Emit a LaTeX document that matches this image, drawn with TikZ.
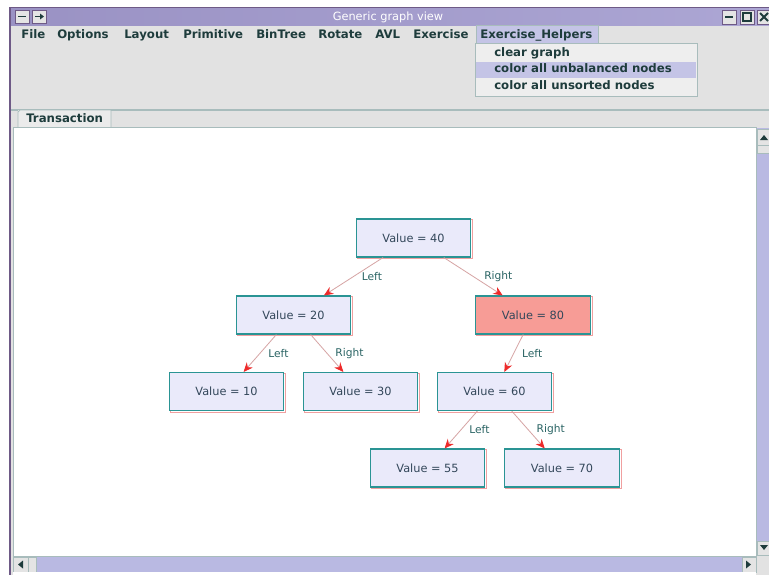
\documentclass[tikz,border=0pt]{standalone}
\usepackage{fontspec}
\setmainfont{DejaVu Sans}
\usetikzlibrary{arrows.meta}
\definecolor{titlebar}{HTML}{ACA6D4}
\definecolor{titledark}{HTML}{9A92C4}
\definecolor{frame}{HTML}{6E5A86}
\definecolor{panel}{HTML}{E2E2E2}
\definecolor{menutext}{HTML}{1E3C3C}
\definecolor{menuhi}{HTML}{C4C4E6}
\definecolor{rule}{HTML}{A8BCBC}
\definecolor{nodefill}{HTML}{EAEAFA}
\definecolor{nodeline}{HTML}{2A9494}
\definecolor{nodefringe}{HTML}{F0A0A0}
\definecolor{hotfill}{HTML}{F79C96}
\definecolor{edgeline}{HTML}{D6A4A4}
\definecolor{tipred}{HTML}{EE2A2A}
\definecolor{labeltext}{HTML}{2A6464}
\definecolor{valuetext}{HTML}{33475A}
\definecolor{track}{HTML}{B9B9E2}
\definecolor{button}{HTML}{E4E4E4}
\tikzset{
  menuitem/.style={anchor=base west, inner sep=0pt, text=menutext,
    font=\fontsize{8.8}{10}\selectfont\bfseries},
  treenode/.style={draw=nodeline, fill=nodefill, line width=0.8pt,
    minimum width=86pt, minimum height=28.5pt, inner sep=0pt, text=valuetext,
    font=\fontsize{8.5}{10}\selectfont,
    append after command={
      \pgfextra{\draw[nodefringe, line width=0.5pt]
        ([xshift=0.9pt,yshift=-0.9pt]\tikzlastnode.north west) rectangle
        ([xshift=0.9pt,yshift=-0.9pt]\tikzlastnode.south east);}}},
  hotnode/.style={treenode, fill=hotfill},
  link/.style={draw=edgeline, line width=0.6pt,
    -{Stealth[color=tipred, length=7pt, width=6pt]}},
  side/.style={midway, anchor=west, xshift=6pt, inner sep=0pt, text=labeltext,
    font=\fontsize{8}{10}\selectfont},
  winbtn/.style={draw=frame, fill=button, line width=0.6pt},
  scrollbtn/.style={draw=rule, fill=button, line width=0.5pt},
}
\begin{document}
\begin{tikzpicture}[x=0.75pt, y=-0.75pt]
\useasboundingbox (0,0) rectangle (769,575);
\fill[white] (0,0) rectangle (769,575);

% window body and frame
\fill[panel] (9,7) rectangle (769,575);
\draw[frame, line width=1.5pt] (10,575) -- (10,7.5) -- (769,7.5);

% title bar
\shade[left color=titledark, right color=titlebar] (11,8) rectangle (769,25);
\node[anchor=base, inner sep=0pt, text=white, font=\fontsize{8.5}{10}\selectfont]
  (title) at (388,20.5) {Generic graph view};
\draw[winbtn] (15,10) rectangle (29,23);
\draw[menutext, line width=1.2pt] (18,16.5) -- (26,16.5);
\draw[winbtn] (32,10) rectangle (46,23);
\draw[menutext, line width=1.2pt] (35,16.5) -- (41,16.5);
\fill[menutext] (44,16.5) -- (40,13.5) -- (40,19.5) -- cycle;
\draw[winbtn] (722,10) rectangle (736,24);
\draw[menutext, line width=1.2pt] (725,17) -- (733,17);
\draw[winbtn] (740,10) rectangle (754,24);
\draw[menutext, line width=1pt] (743,13) rectangle (751,21);
\draw[winbtn] (757,10) rectangle (771,24);
\draw[menutext, line width=1.4pt] (760,13) -- (768,21) (768,13) -- (760,21);

% menu bar
\fill[menuhi] (476,25) rectangle (598,43);
\draw[rule, line width=0.5pt] (476,25) rectangle (598,43);
\node[menuitem] (mfile)   at (21,38)  {File};
\node[menuitem] (mopt)    at (57,38)  {Options};
\node[menuitem] (mlayout) at (124,38) {Layout};
\node[menuitem] (mprim)   at (183,38) {Primitive};
\node[menuitem] (mbin)    at (256,38) {BinTree};
\node[menuitem] (mrot)    at (318,38) {Rotate};
\node[menuitem] (mavl)    at (375,38) {AVL};
\node[menuitem] (mex)     at (413,38) {Exercise};
\node[menuitem] (mhelp)   at (480,38) {Exercise\_Helpers};

% drop-down menu
\fill[panel!60!white] (475,43) rectangle (697,96);
\fill[menuhi] (476,61.5) rectangle (696,77.5);
\draw[rule, line width=0.6pt] (475,43) rectangle (697,96);
\node[menuitem] (dclear)  at (494,56.5) {clear graph};
\node[menuitem] (dunbal)  at (494,72.5) {color all unbalanced nodes};
\node[menuitem] (dunsort) at (494,89)   {color all unsorted nodes};

% tab strip
\draw[rule, line width=0.8pt] (11,110) -- (769,110);
\fill[panel!70!white] (18,110) rectangle (111,127);
\draw[rule, line width=0.6pt] (18,127) -- (18,112) -- (20,110) -- (111,110) -- (111,127);
\node[menuitem] (tab) at (26,122) {Transaction};

% drawing canvas
\fill[white] (13,127) rectangle (756,556);
\draw[rule, line width=0.6pt] (13,127) rectangle (756,556);

% vertical scroll bar
\fill[track] (757,128) rectangle (769,556);
\draw[scrollbtn] (757,129) rectangle (770,145);
\fill[menutext] (760,140) -- (768,140) -- (764,135) -- cycle;
\draw[scrollbtn] (757,145) rectangle (770,153);
\draw[scrollbtn] (757,541) rectangle (770,555);
\fill[menutext] (760,545) -- (768,545) -- (764,550) -- cycle;

% horizontal scroll bar
\fill[track] (13,557) rectangle (756,572);
\draw[scrollbtn] (13,557) rectangle (28,572);
\fill[menutext] (18,564.5) -- (23,560.5) -- (23,568.5) -- cycle;
\draw[scrollbtn] (28,557) rectangle (36,572);
\draw[scrollbtn] (742,557) rectangle (756,572);
\fill[menutext] (751,564.5) -- (746,560.5) -- (746,568.5) -- cycle;
\fill[white] (13,572) rectangle (756,575);

% binary search tree
\node[treenode] (n40) at (413.5,238) {Value = 40};
\node[treenode] (n20) at (293.5,315) {Value = 20};
\node[hotnode]  (n80) at (533,315)   {Value = 80};
\node[treenode] (n10) at (226.5,391.5) {Value = 10};
\node[treenode] (n30) at (360.5,391.5) {Value = 30};
\node[treenode] (n60) at (494.5,391.5) {Value = 60};
\node[treenode] (n55) at (427.5,468) {Value = 55};
\node[treenode] (n70) at (562,468)   {Value = 70};

\draw[link] (n40) -- node[side] {Left}  (n20);
\draw[link] (n40) -- node[side, xshift=2pt] {Right} (n80);
\draw[link] (n20) -- node[side] {Left}  (n10);
\draw[link] (n20) -- node[side] {Right} (n30);
\draw[link] (n80) -- node[side] {Left}  (n60);
\draw[link] (n60) -- node[side] {Left}  (n55);
\draw[link] (n60) -- node[side] {Right} (n70);
\end{tikzpicture}
\end{document}
